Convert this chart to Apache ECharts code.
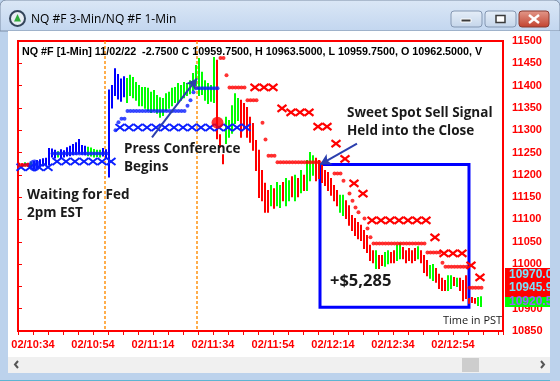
<!DOCTYPE html>
<html><head><meta charset="utf-8">
<script src="https://cdn.jsdelivr.net/npm/echarts@6/dist/echarts.min.js"></script>
<style>html,body{margin:0;padding:0;background:#fff}#c{width:560px;height:381px}</style>
</head><body><div id="c"></div>
<script>
// ---------- DATA ----------
// x values are minutes after 10:29 PST
const timeLabels = ['02/10:34','02/10:54','02/11:14','02/11:34','02/11:54','02/12:14','02/12:34','02/12:54'];
const labelMinutes = [5,25,45,65,85,105,125,145];
const yTicks = {min:10850, max:11500, step:50};

// 1-min bars (bar i sits at minute i+0.5)
const barHigh = [
 11226,11225,11227,11226,11228,11230,11232,11234,11236,11237,
 11259,11258,11255,11252,11256,11254,11261,11264,11268,11272,
 11279,11266,11264,11262,11260,11257,11255,11255,11259,11256,
 11390,11400,11438,11425,11415,11420,11416,11423,11418,11407,
 11400,11396,11396,11394,11385,11389,11378,11373,11371,11382,
 11385,11394,11396,11405,11400,11407,11405,11411,11427,11445,
 11461,11430,11411,11405,11400,11463,11457,11290,11245,11329,
 11322,11355,11382,11371,11367,11360,11351,11329,11315,11277,
 11255,11210,11181,11165,11176,11169,11183,11176,11183,11192,
 11187,11196,11199,11192,11210,11199,11232,11250,11243,11237,
 11232,11221,11210,11205,11192,11176,11165,11154,11154,11142,
 11131,11109,11102,11093,11087,11075,11064,11042,11030,11030,
 11019,11019,11026,11030,11026,11030,11042,11046,11037,11030,
 11035,11030,11035,11039,11030,11019,11008,10997,10999,10990,
 10977,10968,10963,10974,10974,10970,10968,10968,10963,10974,
 10923,10925,10923,10925,10927];
const barLow = [
 11219,11219,11220,11219,11220,11214,11216,11218,11220,11222,
 11222,11240,11238,11240,11239,11240,11242,11243,11245,11246,
 11248,11246,11245,11243,11242,11240,11241,11240,11242,11238,
 11195,11350,11378,11370,11365,11375,11362,11378,11373,11367,
 11355,11355,11349,11344,11340,11344,11338,11329,11333,11344,
 11349,11355,11362,11360,11367,11373,11378,11382,11389,11400,
 11378,11380,11367,11360,11365,11362,11281,11262,11225,11270,
 11284,11293,11315,11322,11284,11304,11284,11273,11255,11210,
 11149,11142,11116,11116,11131,11125,11131,11127,11142,11131,
 11142,11151,11142,11151,11160,11165,11165,11187,11199,11187,
 11192,11183,11176,11165,11154,11142,11131,11116,11109,11102,
 11087,11075,11064,11057,11053,11035,11026,11008,11003,10990,
 10990,10997,10995,11001,11003,11003,11008,11012,11012,11003,
 11008,11003,11008,11012,11003,10981,10974,10968,10963,10959,
 10945,10941,10941,10941,10945,10952,10950,10941,10918,10923,
 10912,10914,10912,10907,10905];
// bar state: R = down, G = up, B = neutral (blue)
const barState = ['RRGRGBBBBB','BBBGBBBBBB','BBBGGGGGBB','BBBBBBGGGG','GGGGGGGGGG',
 'GGGGGGGGGG','GGGGGGRRRG','GGGGRRRRRR','RRRRGRGGRG','GRGRGRGGGR','RRRRRRRGGR',
 'RRRRRRRRRG','RRGGRRGGRR','RRRGRRRGGR','RRRGGRGRRR','RRRGG'].join('').split('');

// 1-min stop dots: [firstBar, lastBar, price]
const blueStopRuns = [[11,29,11248],[32,32,11300],[33,33,11318],[34,35,11326],[36,55,11343],
 [56,56,11355],[57,57,11367],[58,58,11385],[59,66,11394]];
const redStopRuns = [[0,3,11222],[67,68,11462],[69,69,11423],[70,75,11396],[76,79,11367],
 [81,81,11317],[82,82,11279],[83,85,11243],[86,100,11228],[105,107,11203],[108,108,11187],
 [110,110,11158],[111,111,11142],[112,112,11127],[113,113,11116],[115,115,11102],
 [116,116,11080],[117,117,11060],[118,135,11046],[136,140,11026],[141,141,11003],
 [142,149,10994],[150,154,10947]];

// 3-min stop markers (X): [minute, price]
const blueX = [[1,11217],[4,11217],[7,11217],[10,11217],[13,11230],[16,11230],[19,11230],
 [22,11230],[25,11230],[28,11230],[31,11230],[34,11306],[37,11306],[40,11306],[43,11306],
 [46,11306],[49,11306],[52,11306],[55,11306],[58,11306],[61,11306],[64,11306],[67,11306],
 [70,11306],[73,11306],[76,11306]];
const redX = [[79,11396],[82,11396],[85,11396],[88,11349],[91,11340],[94,11340],[97,11340],
 [100,11308],[103,11308],[106,11270],[109,11236],[112,11181],[115,11158],[118,11098],
 [121,11098],[124,11098],[127,11098],[130,11098],[133,11098],[136,11098],[139,11060],
 [142,11024],[145,11024],[148,11024],[151,10997],[154,10970]];

// signals
const buySignal = [5.5, 11221];
const sellSignal = [66.5, 11317];
const eventTimes = [29.1, 59.6];          // Fed release, press conference
const tradeBox = [[100.67, 11223], [150.33, 10903]];
const arrowPress = [[44.67, 11284], [59.67, 11416]];
const arrowSell = [[113, 11270], [100.67, 11223]];
const lastPrices = ['10970.00', '10945.97', '10920.50'];

// ---------- CHART ----------
const COL = {R:'#ff0000', G:'#00ff00', B:'#0000ff'};
const BLUE = '#0a1eff', RED = '#ff0000', ORANGE = '#ff8c00';
function expand(runs){ const out=[]; runs.forEach(([a,b,p])=>{ for(let i=a;i<=b;i++) out.push([i+0.5,p]); }); return out; }
const bars = barHigh.map((h,i)=>[i+0.5, h, barLow[i], i]);

const chart = echarts.init(document.getElementById('c'), null, {renderer:'canvas', width:560, height:381});
const axisFont = '"Liberation Sans", Arial, sans-serif';
const annFont = '"Open Sans", "Noto Sans", sans-serif';
const annStyle = 'bold 13.5px ' + annFont;

function xRender(color, half, lw){
  return function(params, api){
    const p = api.coord([api.value(0), api.value(1)]);
    return {type:'group', children:[
      {type:'line', shape:{x1:p[0]-half,y1:p[1]-half+1,x2:p[0]+half,y2:p[1]+half-1}, style:{stroke:color,lineWidth:lw}},
      {type:'line', shape:{x1:p[0]-half,y1:p[1]+half-1,x2:p[0]+half,y2:p[1]-half+1}, style:{stroke:color,lineWidth:lw}}
    ]};
  };
}

const graphics = [
  // window frame
  {type:'rect', z:-20, shape:{x:0,y:0,width:560,height:381}, style:{fill:'#bcd2ec'}},
  {type:'rect', z:-19, shape:{x:0,y:0,width:560,height:31,r:[6,6,0,0]},
    style:{fill:new echarts.graphic.LinearGradient(0,0,0,1,[{offset:0,color:'#dbe7f6'},{offset:1,color:'#c2d6ef'}]), stroke:'#7d8ea6', lineWidth:1}},
  {type:'rect', z:-18, shape:{x:8,y:31,width:542,height:326}, style:{fill:'#ffffff'}},
  {type:'rect', z:-18, shape:{x:8,y:357,width:542,height:16}, style:{fill:'#f0f0f0'}},
  {type:'rect', z:-17, shape:{x:462,y:358,width:17,height:14}, style:{fill:'#cdcdcd'}},
  {type:'polyline', z:-17, shape:{points:[[18,361],[15,364.5],[18,368]]}, style:{stroke:'#555',lineWidth:2,fill:null}},
  {type:'polyline', z:-17, shape:{points:[[541,361],[544,364.5],[541,368]]}, style:{stroke:'#555',lineWidth:2,fill:null}},
  {type:'line', z:-17, shape:{x1:0,y1:380.5,x2:560,y2:380.5}, style:{stroke:'#5fb4d2',lineWidth:1}},
  // icon
  {type:'circle', z:-16, shape:{cx:17.5,cy:18.5,r:7.5}, style:{fill:'#e8edf3', stroke:'#33445a', lineWidth:2}},
  {type:'polygon', z:-15, shape:{points:[[17.5,14],[21,21.5],[14,21.5]]}, style:{fill:'#2faa3a'}},
  {type:'text', z:-16, x:31, y:20, style:{text:'NQ #F 3-Min/NQ #F 1-Min', font:'12px '+annFont, fill:'#000', textVerticalAlign:'middle'}},
  // buttons
  {type:'rect', z:-16, shape:{x:451,y:11,width:31,height:16,r:3}, style:{fill:new echarts.graphic.LinearGradient(0,0,0,1,[{offset:0,color:'#e6eef8'},{offset:1,color:'#c4d5ea'}]), stroke:'#8497b2', lineWidth:1}},
  {type:'rect', z:-15, shape:{x:461,y:19,width:10,height:3}, style:{fill:'#3a3a3a', stroke:'#ffffff', lineWidth:1}},
  {type:'rect', z:-16, shape:{x:485,y:11,width:31,height:16,r:3}, style:{fill:new echarts.graphic.LinearGradient(0,0,0,1,[{offset:0,color:'#e6eef8'},{offset:1,color:'#c4d5ea'}]), stroke:'#8497b2', lineWidth:1}},
  {type:'rect', z:-15, shape:{x:496,y:15.5,width:9,height:7}, style:{fill:'#ffffff', stroke:'#3a3a3a', lineWidth:1.5}},
  {type:'rect', z:-16, shape:{x:519,y:11,width:30,height:16,r:3}, style:{fill:new echarts.graphic.LinearGradient(0,0,0,1,[{offset:0,color:'#e39a8c'},{offset:1,color:'#c2412e'}]), stroke:'#8a3a30', lineWidth:1}},
  {type:'line', z:-15, shape:{x1:529,y1:15,x2:539,y2:23}, style:{stroke:'#ffffff',lineWidth:2.5}},
  {type:'line', z:-15, shape:{x1:539,y1:15,x2:529,y2:23}, style:{stroke:'#ffffff',lineWidth:2.5}},
  // header
  {type:'text', z:20, x:22, y:52, style:{text:'NQ #F [1-Min] 11/02/22  -2.7500 C 10959.7500, H 10963.5000, L 10959.7500, O 10962.5000, V', font:'bold 10.75px '+axisFont, fill:'#000', textVerticalAlign:'middle'}},
  // annotations
  {type:'text', z:20, x:27, y:195, style:{text:'Waiting for Fed', font:annStyle, fill:'#1a1a1a', textVerticalAlign:'middle'}},
  {type:'text', z:20, x:27, y:213, style:{text:'2pm EST', font:annStyle, fill:'#1a1a1a', textVerticalAlign:'middle'}},
  {type:'text', z:20, x:124, y:149, style:{text:'Press Conference', font:annStyle, fill:'#1a1a1a', textVerticalAlign:'middle'}},
  {type:'text', z:20, x:124, y:167, style:{text:'Begins', font:annStyle, fill:'#1a1a1a', textVerticalAlign:'middle'}},
  {type:'text', z:20, x:347, y:113, style:{text:'Sweet Spot Sell Signal', font:annStyle, fill:'#1a1a1a', textVerticalAlign:'middle'}},
  {type:'text', z:20, x:347, y:131, style:{text:'Held into the Close', font:annStyle, fill:'#1a1a1a', textVerticalAlign:'middle'}},
  {type:'text', z:20, x:330, y:281, style:{text:'+$5,285', font:'bold 16.5px '+annFont, fill:'#1a1a1a', textVerticalAlign:'middle'}},
  {type:'text', z:20, x:443, y:321, style:{text:'Time in PST', font:'11px '+annFont, fill:'#1a1a1a', textVerticalAlign:'middle'}},
  // last price boxes
  {type:'rect', z:50, shape:{x:505,y:268,width:48,height:29}, style:{fill:'#ff0000'}},
  {type:'rect', z:50, shape:{x:505,y:297,width:48,height:10}, style:{fill:'#00ff00'}},
  {type:'text', z:51, x:509, y:275, style:{text:lastPrices[0], font:'bold 12px '+axisFont, fill:'#78e4ff', textVerticalAlign:'middle'}},
  {type:'text', z:51, x:509, y:288, style:{text:lastPrices[1], font:'bold 12px '+axisFont, fill:'#78e4ff', textVerticalAlign:'middle'}},
  {type:'text', z:51, x:509, y:302, style:{text:lastPrices[2], font:'bold 12px '+axisFont, fill:'#9860ff', textVerticalAlign:'middle'}},
  // right frame covering overflow
  {type:'rect', z:60, shape:{x:550,y:31,width:10,height:350}, style:{fill:'#bcd2ec'}}
];

const option = {
  animation:false,
  grid:{left:18, top:41, width:485, height:290, show:true, borderColor:'#ff0000', borderWidth:2, backgroundColor:'#ffffff'},
  xAxis:{type:'value', min:0, max:161.67, interval:5,
    axisLine:{show:true, lineStyle:{color:'#ff0000', width:2}},
    axisTick:{show:true, length:4, lineStyle:{color:'#ff0000', width:1}},
    axisLabel:{color:'#ff0000', fontWeight:'bold', fontSize:11, fontFamily:axisFont, margin:8, hideOverlap:false,
      formatter:v=>{ const k = labelMinutes.findIndex(m=>Math.abs(m-v)<1e-6); return k>=0 ? timeLabels[k] : ''; }},
    splitLine:{show:false}},
  yAxis:{type:'value', position:'right', min:yTicks.min, max:yTicks.max, interval:yTicks.step,
    axisLine:{show:true, lineStyle:{color:'#ff0000', width:2}},
    axisTick:{show:true, length:4, lineStyle:{color:'#ff0000', width:1}},
    axisLabel:{color:'#ff0000', fontWeight:'bold', fontSize:11, fontFamily:axisFont, margin:9, formatter:v=>String(v)},
    splitLine:{show:false}},
  graphic: graphics,
  series:[
    // event lines (Fed release, press conference)
    {type:'custom', z:2, data:eventTimes.map(t=>[t]), encode:{x:0},
      itemStyle:{color:ORANGE},
      renderItem:(params, api)=>{
        const top = api.coord([api.value(0), yTicks.max]), bot = api.coord([api.value(0), yTicks.min]);
        const x = Math.round(top[0]);
        return {type:'line', shape:{x1:x, y1:top[1], x2:x, y2:bot[1]},
          style:{stroke:ORANGE, fill:null, lineWidth:1.4, lineDash:[3,2], opacity:1}};
      }},
    {type:'custom', name:'bars', z:3, data:bars, encode:{x:0, y:[1,2]},
      renderItem:(params, api)=>{
        const t=api.value(0), p1=api.coord([t, api.value(1)]), p2=api.coord([t, api.value(2)]);
        const x=Math.round(p1[0]);
        return {type:'line', shape:{x1:x, y1:p1[1]-0.5, x2:x, y2:p2[1]+0.5}, style:{stroke:COL[barState[api.value(3)]], lineWidth:2}};
      }
    },
    {type:'scatter', z:4, symbol:'circle', symbolSize:4, itemStyle:{color:BLUE}, data:expand(blueStopRuns)},
    {type:'scatter', z:4, symbol:'circle', symbolSize:4, itemStyle:{color:RED}, data:expand(redStopRuns)},
    {type:'custom', z:4, data:blueX, renderItem:xRender(BLUE, 4.5, 2)},
    {type:'custom', z:4, data:redX, renderItem:xRender(RED, 4.5, 2.2)},
    {type:'scatter', z:5, symbol:'circle', symbolSize:12, itemStyle:{color:BLUE}, data:[buySignal]},
    {type:'scatter', z:5, symbol:'circle', symbolSize:12, itemStyle:{color:RED}, data:[sellSignal],
      markArea:{silent:true, itemStyle:{color:'rgba(0,0,0,0)', borderColor:'#0000ff', borderWidth:3},
        data:[[{coord:tradeBox[0]},{coord:tradeBox[1]}]]},
      markLine:{silent:true, symbol:['none','arrow'], symbolSize:[9,11], label:{show:false},
        lineStyle:{color:'#2b3fae', width:2, type:'solid'},
        data:[[{coord:arrowPress[0]},{coord:arrowPress[1]}],[{coord:arrowSell[0]},{coord:arrowSell[1]}]]}
    }
  ]
};
chart.setOption(option);
</script></body></html>
